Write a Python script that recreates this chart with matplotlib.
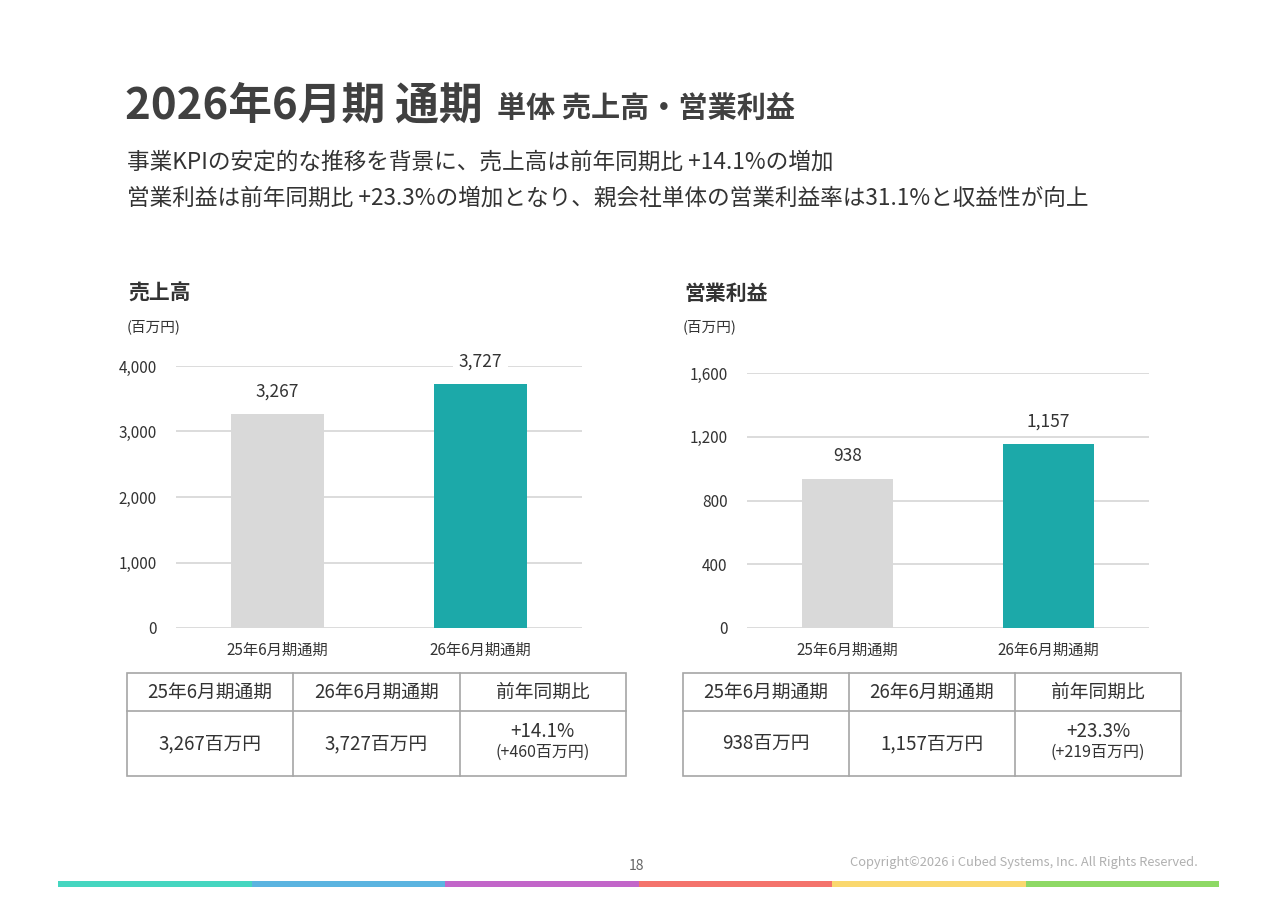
import matplotlib
matplotlib.use('Agg')
import matplotlib.pyplot as plt
from matplotlib.patches import Rectangle

plt.rcParams['font.family'] = ['Noto Sans CJK JP', 'DejaVu Sans']

# データ
categories = ['25年6月期通期', '26年6月期通期']
sales = [3267, 3727]
op_profit = [938, 1157]
sales_ticks = [0, 1000, 2000, 3000, 4000]
profit_ticks = [0, 400, 800, 1200, 1600]

table_header = ['25年6月期通期', '26年6月期通期', '前年同期比']
sales_table = ['3,267百万円', '3,727百万円', '+14.1%', '(+460百万円)']
profit_table = ['938百万円', '1,157百万円', '+23.3%', '(+219百万円)']

stripe_colors = ['#45d6c0', '#5bb4e0', '#c266c9', '#f4736c', '#fad86e', '#8ed965']

bar_colors = ['#d9d9d9', '#1ca9a9']
TXT = '#333333'
W, H = 1280, 905


def px(x, y):
    return x / W, 1 - y / H


fig = plt.figure(figsize=(12.8, 9.05), dpi=100)
fig.patch.set_facecolor('white')

# タイトル
fig.text(*px(125, 106), '2026年6月期 通期', fontsize=31.5, fontweight='bold',
         color='#404040', va='center', ha='left')
fig.text(*px(497, 108), '単体 売上高・営業利益', fontsize=21, fontweight='bold',
         color='#404040', va='center', ha='left')
fig.text(*px(127, 162), '事業KPIの安定的な推移を背景に、売上高は前年同期比 +14.1%の増加',
         fontsize=16.3, color=TXT, va='center', ha='left')
fig.text(*px(127, 198), '営業利益は前年同期比 +23.3%の増加となり、親会社単体の営業利益率は31.1%と収益性が向上',
         fontsize=16.3, color=TXT, va='center', ha='left')


def bar_chart(rect, values, ticks, title, title_x):
    ax = fig.add_axes(rect)
    ax.bar(range(len(values)), values, width=0.455, color=bar_colors, zorder=2)
    ax.set_xlim(-0.5, len(values) - 0.5)
    ax.set_ylim(ticks[0], ticks[-1])
    ax.set_yticks(ticks)
    ax.set_yticklabels([f'{t:,}' for t in ticks])
    ax.set_xticks(range(len(values)))
    ax.set_xticklabels(categories)
    ax.grid(axis='y', color='#d9d9d9', linewidth=1.3, zorder=0)
    ax.set_axisbelow(True)
    for s in ax.spines.values():
        s.set_visible(False)
    ax.tick_params(axis='y', length=0, pad=14, labelsize=11, labelcolor=TXT)
    ax.tick_params(axis='x', length=0, pad=10, labelsize=11, labelcolor=TXT)
    for i, v in enumerate(values):
        ax.annotate(f'{v:,}', xy=(i, v), xytext=(0, 16), textcoords='offset points',
                    ha='center', va='center', fontsize=12.5, color=TXT, zorder=3,
                    annotation_clip=False,
                    bbox=dict(boxstyle='square,pad=0.35', fc='white', ec='none'))
    fig.text(*px(title_x, 293), title, fontsize=15, fontweight='bold',
             color='#333333', va='center', ha='left')
    fig.text(*px(title_x - 1, 327), '(百万円)', fontsize=10.5, color=TXT,
             va='center', ha='left')
    return ax


bar_chart([176 / W, 1 - 628 / H, 406 / W, 262 / H], sales, sales_ticks, '売上高', 128)
bar_chart([747 / W, 1 - 628 / H, 402 / W, 255 / H], op_profit, profit_ticks, '営業利益', 684)


def table(x0, x1, cells):
    y0, y1 = 673, 776
    ax = fig.add_axes([x0 / W, 1 - y1 / H, (x1 - x0) / W, (y1 - y0) / H])
    ax.set_xlim(0, 3)
    ax.set_ylim(1, 0)
    ax.axis('off')
    hr = (711 - y0) / (y1 - y0)
    lc = '#a6a6a6'
    ax.add_patch(Rectangle((0, 0), 3, 1, fill=False, ec=lc, lw=1.2, clip_on=False))
    ax.plot([0, 3], [hr, hr], color=lc, lw=1.2, clip_on=False)
    for c in (1, 2):
        ax.plot([c, c], [0, 1], color=lc, lw=1.2, clip_on=False)
    for i, h in enumerate(table_header):
        ax.text(i + 0.5, hr / 2, h, ha='center', va='center', fontsize=13.5, color=TXT)
    mid = (hr + 1) / 2
    ax.text(0.5, mid, cells[0], ha='center', va='center', fontsize=13.5, color=TXT)
    ax.text(1.5, mid, cells[1], ha='center', va='center', fontsize=13.5, color=TXT)
    ax.text(2.5, mid - 0.12, cells[2], ha='center', va='center', fontsize=13.5, color=TXT)
    ax.text(2.5, mid + 0.09, cells[3], ha='center', va='center', fontsize=11.5, color=TXT)


table(127, 626, sales_table)
table(683, 1181, profit_table)

# フッター
fig.text(*px(637, 866), '18', fontsize=10, color='#666666', ha='center', va='center')
fig.text(*px(1198, 862), 'Copyright©2026 i Cubed Systems, Inc. All Rights Reserved.',
         fontsize=9.3, color='#b0b0b0', ha='right', va='center')
seg = (1219 - 58) / len(stripe_colors)
for i, c in enumerate(stripe_colors):
    fig.patches.append(Rectangle(px(58 + i * seg, 887), seg / W, 6 / H,
                                 transform=fig.transFigure, color=c, lw=0))

fig.savefig('out.png', dpi=100, facecolor='white')
